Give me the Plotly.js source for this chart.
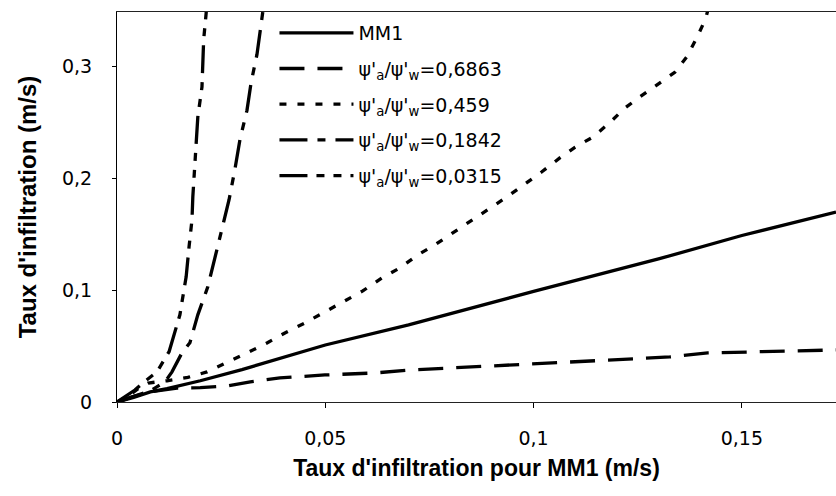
<!DOCTYPE html>
<html><head><meta charset="utf-8">
<script src="https://cdn.plot.ly/plotly-3.0.1.min.js"></script>
<style>html,body{margin:0;padding:0;background:#fff}#chart{width:836px;height:496px}</style>
</head><body><div id="chart"></div>
<script>
// Series names (legend labels)
const seriesNames = ["MM1", "ψ'<sub>a</sub>/ψ'<sub>w</sub>=0,6863", "ψ'<sub>a</sub>/ψ'<sub>w</sub>=0,459", "ψ'<sub>a</sub>/ψ'<sub>w</sub>=0,1842", "ψ'<sub>a</sub>/ψ'<sub>w</sub>=0,0315"];

// MM1 reference (solid)
const mm1X = [0, 0.004, 0.008, 0.012, 0.02, 0.03, 0.05, 0.07, 0.1, 0.13, 0.15, 0.1726];
const mm1Y = [0, 0.004, 0.009, 0.012, 0.019, 0.029, 0.051, 0.069, 0.099, 0.128, 0.149, 0.170];

// ratio 0,6863 (long dash)
const r6863X = [0, 0.004, 0.008, 0.0144, 0.02, 0.0265, 0.032, 0.0391, 0.0499, 0.0619, 0.0703, 0.0799, 0.0883, 0.0967, 0.1063, 0.1147, 0.1241, 0.1327, 0.1418, 0.1507, 0.1596, 0.1726];
const r6863Y = [0, 0.005, 0.009, 0.0125, 0.0128, 0.0143, 0.018, 0.0215, 0.0242, 0.026, 0.0286, 0.0304, 0.0322, 0.034, 0.0358, 0.0367, 0.0385, 0.0403, 0.0439, 0.0448, 0.0457, 0.0466];

// ratio 0,459 (dotted)
const r459X = [0, 0.003, 0.0055, 0.0075, 0.012, 0.017, 0.0216, 0.0264, 0.0312, 0.036, 0.0403, 0.0451, 0.0499, 0.0542, 0.059, 0.0636, 0.0679, 0.0722, 0.0763, 0.0806, 0.0852, 0.089, 0.0936, 0.102, 0.1063, 0.110, 0.1142, 0.1183, 0.1219, 0.1255, 0.1298, 0.1339, 0.1368, 0.1392, 0.1413, 0.1425];
const r459Y = [0, 0.006, 0.013, 0.017, 0.019, 0.022, 0.0269, 0.035, 0.0439, 0.0528, 0.0618, 0.0707, 0.0806, 0.0895, 0.0994, 0.111, 0.120, 0.1316, 0.1406, 0.1513, 0.1629, 0.1719, 0.1835, 0.206, 0.2184, 0.228, 0.237, 0.250, 0.263, 0.273, 0.284, 0.295, 0.309, 0.326, 0.343, 0.36];

// ratio 0,1842 (dash-dot)
const r1842X = [0, 0.004, 0.008, 0.0115, 0.0132, 0.0156, 0.0175, 0.0194, 0.0218, 0.0235, 0.0252, 0.0269, 0.0283, 0.0295, 0.0312, 0.0322, 0.0336, 0.0348, 0.0354];
const r1842Y = [0, 0.005, 0.010, 0.018, 0.027, 0.044, 0.053, 0.078, 0.103, 0.129, 0.154, 0.181, 0.208, 0.2345, 0.261, 0.286, 0.311, 0.340, 0.36];

// ratio 0,0315 (dash-dot-dot)
const r0315X = [0, 0.0025, 0.0043, 0.0062, 0.0096, 0.0125, 0.0139, 0.0151, 0.0158, 0.0166, 0.0173, 0.0180, 0.0182, 0.0187, 0.0192, 0.0194, 0.0204, 0.0206, 0.0208, 0.0214, 0.0216];
const r0315Y = [0, 0.006, 0.0107, 0.017, 0.027, 0.045, 0.062, 0.078, 0.094, 0.112, 0.139, 0.163, 0.1835, 0.210, 0.235, 0.255, 0.282, 0.306, 0.324, 0.348, 0.36];

// Tick values / labels
const xTickVals = [0, 0.05, 0.1, 0.15];
const xTickText = ["0", "0,05", "0,1", "0,15"];
const yTickVals = [0, 0.1, 0.2, 0.3];
const yTickText = ["0", "0,1", "0,2", "0,3"];

const dashes = ["solid", "25px,13px", "7px,11px", "28px,10px,8px,10px", "28px,9px,8px,9px,8px,9px"];
const xs = [mm1X, r6863X, r459X, r1842X, r0315X];
const ys = [mm1Y, r6863Y, r459Y, r1842Y, r0315Y];

const traces = xs.map((x, i) => ({
  x: x, y: ys[i], type: "scatter", mode: "lines", name: seriesNames[i],
  legendgroup: "g" + i,
  line: {color: "#000", width: 3.3, dash: dashes[i]}
}));

const titleFam = "Liberation Sans, Arial, sans-serif";
const textFam = "DejaVu Sans, sans-serif";
const layout = {
  width: 836, height: 496,
  margin: {l: 117, r: 0, t: 12, b: 94},
  paper_bgcolor: "#fff", plot_bgcolor: "#fff",
  font: {family: textFam, size: 19, color: "#000"},
  showlegend: true,
  legend: {x: 0.219, y: 0.995, xanchor: "left", yanchor: "top", bgcolor: "#fff",
           font: {family: textFam, size: 19, color: "#000"}, itemwidth: 74, tracegroupgap: 8},
  xaxis: {range: [0, 0.1726], tickvals: xTickVals, ticktext: xTickText, ticks: "outside", ticklen: 5,
          tickcolor: "#000", showline: true, linecolor: "#222", linewidth: 1, mirror: true,
          showgrid: false, zeroline: false, ticklabelstandoff: 14,
          tickfont: {family: textFam, size: 19},
          title: {text: "Taux d'infiltration pour MM1 (m/s)", font: {family: titleFam, size: 23, weight: "bold"}, standoff: 12}},
  yaxis: {range: [0, 0.349], tickvals: yTickVals, ticktext: yTickText, ticks: "outside", ticklen: 4,
          tickcolor: "#000", showline: true, linecolor: "#000", linewidth: 1,
          showgrid: false, zeroline: false, ticklabelstandoff: 16, automargin: true,
          tickfont: {family: textFam, size: 19},
          title: {text: "Taux d'infiltration (m/s)", font: {family: titleFam, size: 24, weight: "bold"}, standoff: 18}}
};

Plotly.newPlot("chart", traces, layout, {displayModeBar: false, staticPlot: true});
</script>
</body></html>
